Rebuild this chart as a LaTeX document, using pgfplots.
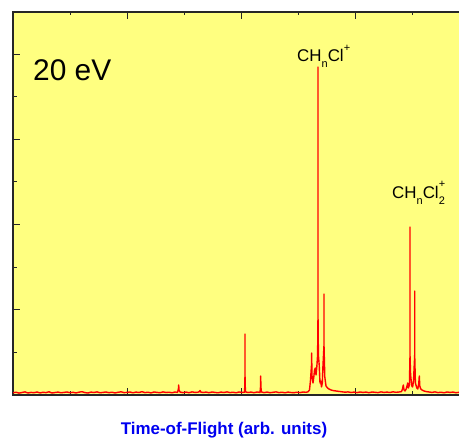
\documentclass[border=0pt]{standalone}
\usepackage{fontspec}
\setmainfont{Liberation Sans}
\usepackage{pgfplots}
\pgfplotsset{compat=1.18}
\definecolor{bgyellow}{RGB}{255,255,128}
\definecolor{lblblue}{RGB}{0,0,240}
\begin{document}
\begin{tikzpicture}
\path[use as bounding box] (0bp,0bp) rectangle (459bp,438bp);
\clip (0bp,0bp) rectangle (459bp,438bp);
\begin{axis}[
  at={(13bp,43bp)}, anchor=south west,
  scale only axis, width=467bp, height=383bp,
  xmin=13, xmax=480, ymin=0, ymax=383,
  axis background/.style={fill=bgyellow},
  axis line style={black!85, line width=1.2bp},
  tick align=inside,
  xtick={13,127.2,241.4,355.6,469.8},
  minor xtick={70.1,184.3,298.5,412.7},
  ytick={0,85.25,170.5,255.75,341},
  minor ytick={42.6,127.9,213.1,298.4,383},
  xticklabels={}, yticklabels={},
  major tick length=7bp, minor tick length=3.5bp,
  every tick/.style={black!85, line width=0.9bp},
  clip=true,
]
\addplot[red, line width=1.4bp, no markers, sharp plot, line join=round] coordinates {
(13,2.2) (16,2.8) (19,1.9) (22,2.5) (25,3.1) (28,2.0) (31,2.6) (34,2.3) (37,3.0) (40,2.1)
(43,2.7) (46,2.4) (49,3.2) (52,2.0) (55,2.5) (58,2.9) (61,2.2) (64,2.6) (67,3.0) (70,2.3)
(73,2.7) (76,2.1) (79,2.8) (82,3.3) (85,2.4) (88,2.0) (91,2.9) (94,2.5) (97,3.1) (100,2.2)
(103,2.6) (106,3.0) (109,2.3) (112,2.8) (115,2.1) (118,2.7) (121,3.2) (124,2.4) (127,2.6)
(130,3.0) (133,2.2) (136,2.9) (139,2.5) (142,3.3) (145,2.4) (148,2.8) (151,2.1) (154,3.0)
(157,2.6) (160,2.3) (163,3.1) (166,2.5) (169,2.8) (172,2.2) (175,3.0) (177.5,2.6) (178.4,6)
(178.7,10) (179.0,5) (180,3.0) (183,2.4) (186,2.9) (189,2.3) (192,3.1) (195,2.6) (198,2.8)
(199.5,3.5) (200,4.5) (200.6,3.0) (203,2.5) (206,2.9) (209,2.3) (212,3.0) (215,2.6) (218,2.2)
(221,2.9) (224,2.5) (227,3.1) (230,2.4) (233,2.8) (236,2.2) (239,3.0) (242,2.6) (244.6,2.8)
(245,20) (245,61) (245,20) (245.4,3.2) (248,2.5) (251,2.9) (254,2.3) (257,3.0) (260,2.6)
(260.5,8) (260.7,19) (260.9,8) (261.4,3.0) (264,2.4) (267,2.9) (270,2.3) (273,2.7) (276,3.1)
(279,2.4) (282,2.8) (285,2.2) (288,2.9) (291,2.5) (294,2.3) (297,2.8) (300,2.4) (303,3.0)
(306,2.7) (308,3.2) (309.5,5) (310.5,15) (311.5,30) (311.7,42) (311.9,20) (313,12) (313.8,18)
(314.5,25) (315.3,27) (316,20) (316.8,28) (317.6,40) (318,80) (318,328) (318,80) (318.4,40) (319.2,30) (320,12)
(320.7,14) (321.5,8) (322.3,12) (323,30) (324,50) (324,101) (324,50) (324.8,18) (326,9)
(327.5,7) (329,6) (331,5) (333,4.5) (336,4) (339,3.6) (342,3.2) (345,2.8) (348,3.1) (351,2.5)
(354,2.9) (357,2.4) (360,3.0) (363,2.6) (366,2.9) (369,2.3) (372,3.0) (375,2.7) (378,2.4)
(381,3.1) (384,2.6) (387,2.9) (390,2.5) (393,3.2) (396,2.7) (399,3.0) (401.5,3.4) (402.5,6)
(403.3,10) (404,5) (405,4) (406.2,6) (407,9) (407.7,12) (408.4,7) (409.4,10) (410,40)
(410,168) (410,40) (410.6,20) (411.8,9) (412.6,8) (413.5,14) (414.7,40) (414.7,104) (414.7,40)
(415.4,12) (416.8,7) (417.8,6) (418.8,12) (419.3,19) (419.8,9) (420.8,6) (422,5) (424,4)
(426,3.5) (429,3.0) (432,2.6) (435,3.1) (438,2.4) (441,2.8) (444,2.2) (447,3.0) (450,2.6)
(453,2.9) (456,2.3) (459,2.7) (462,2.5)
};
\node[anchor=west, font=\fontsize{30}{32}\selectfont, inner sep=0pt] at (axis cs:33,325) {20 eV};
\node[anchor=base west, font=\fontsize{17}{19}\selectfont, inner sep=0pt] at (axis cs:297,333)
  {CH\raisebox{-0.3em}{\fontsize{11}{12}\selectfont n}Cl\raisebox{0.6em}{\fontsize{11}{12}\selectfont +}};
\node[anchor=base west, font=\fontsize{17}{19}\selectfont, inner sep=0pt] at (axis cs:392,196)
  {CH\raisebox{-0.3em}{\fontsize{11}{12}\selectfont n}Cl\rlap{\raisebox{0.65em}{\fontsize{11}{12}\selectfont +}}\raisebox{-0.35em}{\fontsize{11}{12}\selectfont 2}};
\end{axis}
\node[font=\bfseries\fontsize{17}{19}\selectfont, text=lblblue, inner sep=0pt] at (224bp,8bp) {Time-of-Flight (arb. units)};
\end{tikzpicture}
\end{document}
